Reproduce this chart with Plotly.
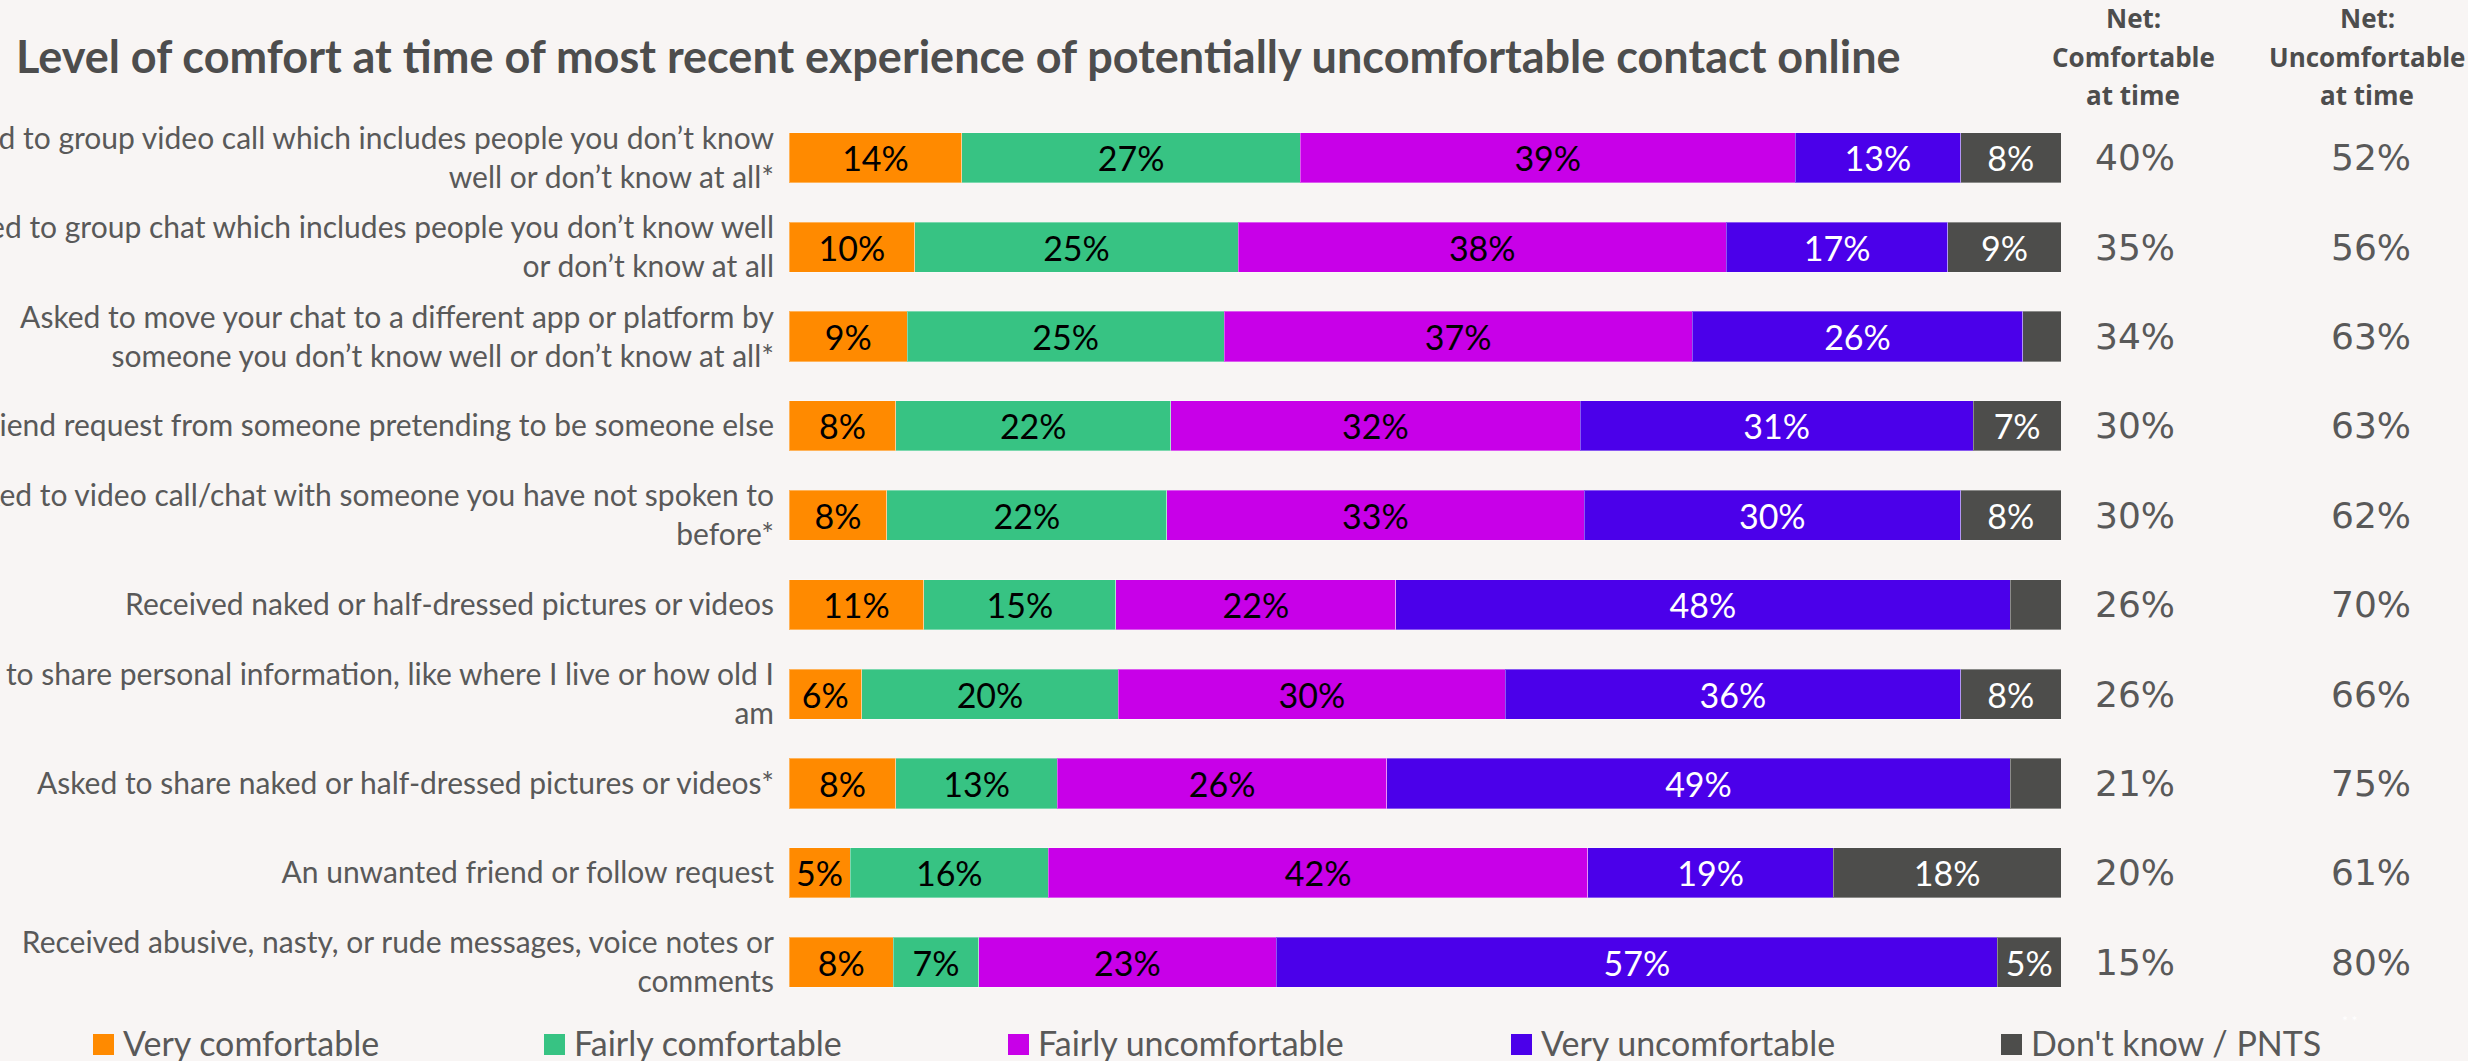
import plotly.graph_objects as go

# ---------------- data ----------------
categories = [
    "Added to group video call which includes people you don\u2019t know<br>well or don\u2019t know at all*",
    "Added to group chat which includes people you don\u2019t know well<br>or don\u2019t know at all",
    "Asked to move your chat to a different app or platform by<br>someone you don\u2019t know well or don\u2019t know at all*",
    "Received a friend request from someone pretending to be someone else",
    "Asked to video call/chat with someone you have not spoken to<br>before*",
    "Received naked or half-dressed pictures or videos",
    "Asked to share personal information, like where I live or how old I<br>am",
    "Asked to share naked or half-dressed pictures or videos*",
    "An unwanted friend or follow request",
    "Received abusive, nasty, or rude messages, voice notes or<br>comments",
]

very_comfortable = [13.6, 9.9, 9.3, 8.4, 7.7, 10.6, 5.7, 8.4, 4.8, 8.2]
fairly_comfortable = [26.6, 25.4, 24.9, 21.6, 22.0, 15.1, 20.2, 12.7, 15.6, 6.7]
fairly_uncomfortable = [38.9, 38.4, 36.8, 32.2, 32.8, 22.0, 30.4, 25.9, 42.4, 23.4]
very_uncomfortable = [13.0, 17.4, 26.0, 30.9, 29.6, 48.3, 35.8, 49.0, 19.3, 56.7]
dont_know = [7.9, 8.9, 3.0, 6.9, 7.9, 4.0, 7.9, 4.0, 17.9, 5.0]

net_comfortable = ["40%", "35%", "34%", "30%", "30%", "26%", "26%", "21%", "20%", "15%"]
net_uncomfortable = ["52%", "56%", "63%", "63%", "62%", "70%", "66%", "75%", "61%", "80%"]

series_names = ["Very comfortable", "Fairly comfortable", "Fairly uncomfortable",
                "Very uncomfortable", "Don't know / PNTS"]
series_values = [very_comfortable, fairly_comfortable, fairly_uncomfortable,
                 very_uncomfortable, dont_know]
series_colors = ["#FF8A00", "#37C383", "#C800E8", "#4B00EA", "#4D4D4B"]
label_colors = ["#000000", "#000000", "#000000", "#FFFFFF", "#FFFFFF"]

title_text = "Level of comfort at time of most recent experience of potentially uncomfortable contact online"
header_comf = ["Net:", "Comfortable", "at time"]
header_uncomf = ["Net:", "Uncomfortable", "at time"]

# ---------------- styling ----------------
W, H = 2468, 1061
ML, MR, MT, MB = 789, 407, 113, 54
PW, PH = W - ML - MR, H - MT - MB
BG = "#F8F5F4"
TXT = "#595959"
MAIN = "Lato"
GEO = "DejaVu Sans"
HEAD = "Open Sans"


def px_to_paper_x(px):
    return (px - ML) / PW


def px_to_paper_y(py):
    return (H - MB - py) / PH


fig = go.Figure()
for name, vals, col, tcol in zip(series_names, series_values, series_colors, label_colors):
    fig.add_trace(go.Bar(
        y=categories, x=vals, name=name, orientation="h",
        marker=dict(color=col, line=dict(width=1, color="rgba(255,255,255,0.35)")),
        text=[f"{v:.0f}%" if v >= 4.5 else "" for v in vals],
        textposition="inside", insidetextanchor="middle", textangle=0,
        textfont=dict(family=MAIN, size=34, color=tcol),
        showlegend=False, hoverinfo="skip",
    ))

annotations = []
for cat, a, b in zip(categories, net_comfortable, net_uncomfortable):
    annotations.append(dict(x=px_to_paper_x(2135), y=cat, xref="paper", yref="y",
                            text=a, showarrow=False, xanchor="center", yanchor="middle",
                            font=dict(family=GEO, size=36, color=TXT)))
    annotations.append(dict(x=px_to_paper_x(2371), y=cat, xref="paper", yref="y",
                            text=b, showarrow=False, xanchor="center", yanchor="middle",
                            font=dict(family=GEO, size=36, color=TXT)))

header_line_y = [18, 57, 95]
for hx, lines in [(2133, header_comf), (2367, header_uncomf)]:
    for ly, line in zip(header_line_y, lines):
        annotations.append(dict(x=px_to_paper_x(hx), y=px_to_paper_y(ly), xref="paper", yref="paper",
                                text=f"<b>{line}</b>", showarrow=False, xanchor="center", yanchor="middle",
                                font=dict(family=HEAD, size=26, color="#4D4D4D")))

# legend (manual, to match square size and spacing)
legend_x = [93, 544, 1008, 1511, 2001]
legend_y = 1044.5
shapes = []
for lx, name, col in zip(legend_x, series_names, series_colors):
    shapes.append(dict(type="rect", xref="paper", yref="paper",
                       xsizemode="pixel", ysizemode="pixel",
                       xanchor=px_to_paper_x(lx), yanchor=px_to_paper_y(legend_y),
                       x0=0, x1=21, y0=-10.5, y1=10.5,
                       fillcolor=col, line=dict(width=0)))
    annotations.append(dict(x=px_to_paper_x(lx + 28), y=px_to_paper_y(legend_y - 2), xref="paper", yref="paper",
                            text=name, showarrow=False, xanchor="left", yanchor="middle",
                            font=dict(family=MAIN, size=34, color=TXT)))

annotations.append(dict(x=px_to_paper_x(2350), y=px_to_paper_y(1020), xref="paper", yref="paper",
                        text="* *", showarrow=False, xanchor="center", yanchor="middle",
                        font=dict(family=MAIN, size=14, color="#FFFFFF")))

fig.update_layout(
    width=W, height=H,
    margin=dict(l=ML, r=MR, t=MT, b=MB, autoexpand=False),
    paper_bgcolor=BG, plot_bgcolor=BG,
    barmode="stack", bargap=0.44,
    title=dict(text=f"<b>{title_text}</b>", x=16 / W, xanchor="left", xref="container",
               y=1 - 57 / H, yanchor="middle", yref="container",
               font=dict(family=MAIN, size=45, color="#4D4D4D")),
    xaxis=dict(range=[0, 100], visible=False, fixedrange=True),
    yaxis=dict(type="category", categoryarray=categories, autorange="reversed",
               showgrid=False, showline=False, zeroline=False, ticks="",
               ticklabelstandoff=14, automargin=False,
               tickfont=dict(family=MAIN, size=30, color=TXT)),
    annotations=annotations, shapes=shapes,
    uniformtext=dict(minsize=30, mode="show"),
)

fig.write_html("out.html", config={"displayModeBar": False},
               post_script="document.body.style.margin='0px';")
